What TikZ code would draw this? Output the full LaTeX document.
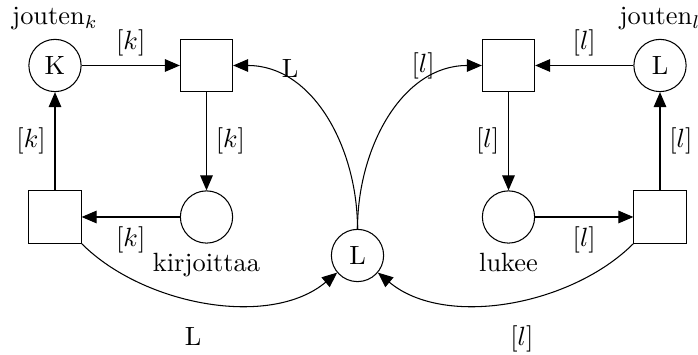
\documentclass[tikz,border=0pt]{standalone}
\usetikzlibrary{arrows.meta}
\begin{document}
\begin{tikzpicture}[x=0.379pt,y=0.379pt,
  place/.style={draw,circle,minimum size=19.8pt,inner sep=0pt,line width=0.4pt},
  trans/.style={draw,rectangle,minimum size=19.8pt,inner sep=0pt,line width=0.4pt},
  arr/.style={-{Triangle[length=5.7pt,width=4.8pt]},line width=0.4pt}]
\useasboundingbox (0,0) rectangle (698,355);
% left part
\node[place,label=above:jouten$_k$] (K) at (55,289.5) {K};
\node[trans] (T1) at (206.5,289.5) {};
\node[trans] (T2) at (55,138) {};
\node[place,label=below:kirjoittaa] (Kir) at (206.5,138) {};
% centre
\node[place] (C) at (357.5,99.5) {L};
% right part
\node[trans] (T3) at (508.5,289.5) {};
\node[place,label=above:jouten$_l$] (Lr) at (660,289.5) {L};
\node[place,label=below:lukee] (Lu) at (508.5,138) {};
\node[trans] (T4) at (660,138) {};
% left arcs
\draw[arr] (K) -- node[above] {$[k]$} (T1);
\draw[arr] (T1) -- node[right] {$[k]$} (Kir);
\draw[arr] (Kir) -- node[below] {$[k]$} (T2);
\draw[arr] (T2) -- node[left] {$[k]$} (K);
% right arcs
\draw[arr] (Lr) -- node[above] {$[l]$} (T3);
\draw[arr] (T3) -- node[left] {$[l]$} (Lu);
\draw[arr] (Lu) -- node[below] {$[l]$} (T4);
\draw[arr] (T4) -- node[right] {$[l]$} (Lr);
% centre arcs
\draw[arr] (C.north) to[out=90,in=0] node[pos=0.73,above,inner sep=1.5pt] {L} (T1.east);
\draw[arr] (C.north) to[out=90,in=180] node[pos=0.72,above,inner sep=1.2pt] {$[l]$} (T3.west);
\draw[arr] (T2) to[out=-45,in=-140,looseness=0.87] node[pos=0.45,below=7pt] {L} (C);
\draw[arr] (T4) to[out=-135,in=-40,looseness=0.87] node[pos=0.45,below=6.3pt] {$[l]$} (C);
\end{tikzpicture}
\end{document}
